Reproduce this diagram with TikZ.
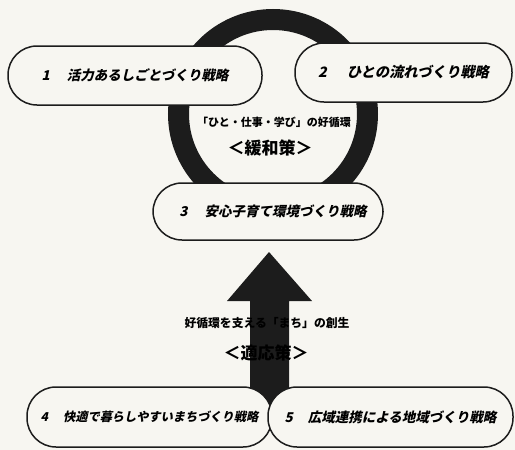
\documentclass[tikz,border=0pt]{standalone}
\usepackage{fontspec}
\newfontfamily\jpit[FakeSlant=0.22,BoldFeatures={FakeSlant=0.22}]{Noto Sans CJK JP}
\newfontfamily\jp{Noto Sans CJK JP}
\definecolor{paper}{RGB}{247,246,241}
\definecolor{ink}{RGB}{28,28,28}
\tikzset{
  stadium/.style={draw=ink, line width=1.5pt, fill=paper, rounded corners=29pt,
    inner sep=0pt, font=\jpit\bfseries\fontsize{13.5}{13.5}\selectfont},
  midtext/.style={font=\jp\bfseries\fontsize{11}{11}\selectfont, inner sep=0pt},
  bigtext/.style={font=\jp\bfseries\fontsize{17}{17}\selectfont, inner sep=0pt}
}
\begin{document}
\begin{tikzpicture}[x=1pt,y=-1pt]
\useasboundingbox (0,0) rectangle (515,450);
\fill[paper] (0,0) rectangle (515,450);
% ring
\coordinate (ringc) at (273,114);
\draw[ink, line width=21pt] (ringc) circle[radius=94.5];
% boxes on ring
\node[stadium, minimum width=254pt, minimum height=59pt] (b1) at (135,75.5)
  {1\hspace{17pt}活力あるしごとづくり戦略\hspace{12pt}};
\node[stadium, minimum width=217pt, minimum height=59pt, font=\jpit\bfseries\fontsize{14.3}{14.3}\selectfont] (b2) at (403.5,72.5)
  {2\hspace{20pt}ひとの流れづくり戦略};
\node[midtext] (t1) at (274,122) {「ひと・仕事・学び」の好循環};
\node[bigtext] (t2) at (270,148) {＜緩和策＞};
\node[stadium, minimum width=230pt, minimum height=57pt] (b3) at (268,211.5)
  {\hspace{10pt}3\hspace{17pt}安心子育て環境づくり戦略};
% big arrow
\coordinate (tip) at (269,252);
\fill[ink] (tip) -- (312,301) -- (289,301) -- (289,425) -- (250,425) -- (250,301) -- (227,301) -- cycle;
\node[midtext, font=\jp\bfseries\fontsize{11.8}{11.8}\selectfont] (t3) at (267,323) {好循環を支える「まち」の創生};
\node[bigtext] (t4) at (266,353) {＜適応策＞};
% bottom boxes
\node[stadium, minimum width=245pt, minimum height=60pt, font=\jpit\bfseries\fontsize{12.2}{12.2}\selectfont] (b4) at (149.5,417)
  {4\hspace{15pt}快適で暮らしやすいまちづくり戦略};
\node[stadium, minimum width=245pt, minimum height=60pt] (b5) at (390.5,417)
  {5\hspace{15pt}広域連携による地域づくり戦略};
\end{tikzpicture}
\end{document}
